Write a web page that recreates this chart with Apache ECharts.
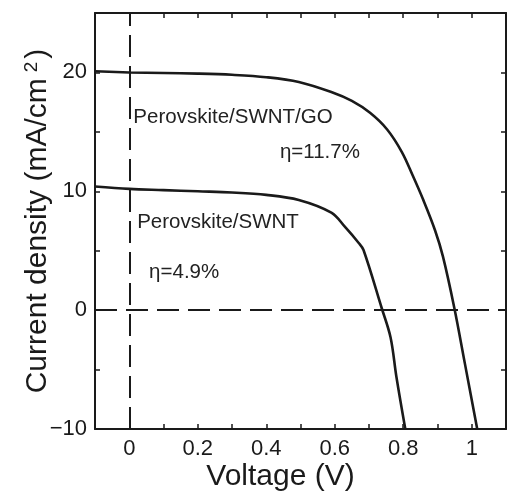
<!DOCTYPE html>
<html>
<head>
<meta charset="utf-8">
<script src="https://cdn.jsdelivr.net/npm/echarts@6/dist/echarts.min.js"></script>
<style>
  html, body { margin: 0; padding: 0; background: #fff; }
  #chart { width: 508px; height: 498px; }
</style>
</head>
<body>
<div id="chart"></div>
<script>
// J-V curves, voltage (V) vs current density (mA/cm2)
const goCurve = [
  [-0.1, 20.1], [0, 20.0], [0.1, 19.95], [0.2, 19.9], [0.3, 19.8], [0.4, 19.6],
  [0.495, 19.2], [0.59, 18.35], [0.65, 17.6], [0.703, 16.6], [0.753, 15.2],
  [0.796, 13.3], [0.828, 11.3], [0.858, 9.3], [0.893, 6.7], [0.916, 4.5],
  [0.949, 0.2], [0.98, -4.5], [1.016, -10]
]
const swntCurve = [
  [-0.1, 10.4], [0, 10.2], [0.1, 10.1], [0.2, 10.0], [0.3, 9.9], [0.4, 9.7],
  [0.495, 9.27], [0.59, 8.2], [0.63, 7.0], [0.67, 5.65], [0.684, 5.06], [0.737, 0.18],
  [0.763, -2.3], [0.78, -5.6], [0.806, -10]
]
const annotations = [
  { coord: [0.012, 16.2], text: 'Perovskite/SWNT/GO' },
  { coord: [0.44, 13.3], text: 'η=11.7%' },
  { coord: [0.023, 7.4], text: 'Perovskite/SWNT' },
  { coord: [0.058, 3.2], text: 'η=4.9%' }
]
const xLabels = [0, 0.2, 0.4, 0.6, 0.8, 1]
const yLabels = [-10, 0, 10, 20]

const FONT = 'Liberation Sans, Arial, sans-serif'
const INK = '#1a1a1a'

const chart = echarts.init(document.getElementById('chart'))

const baseX = {
  type: 'value',
  min: -0.1,
  max: 1.1,
  interval: 0.1,
  axisLine: { show: true, onZero: false, lineStyle: { color: INK, width: 2 } },
  axisTick: { show: true, inside: true, length: 5, lineStyle: { color: INK, width: 1.5 } },
  splitLine: { show: false },
}
const baseY = {
  type: 'value',
  min: -10,
  max: 25,
  interval: 5,
  axisLine: { show: true, onZero: false, lineStyle: { color: INK, width: 2 } },
  axisTick: { show: true, inside: true, length: 5, lineStyle: { color: INK, width: 1.5 } },
  splitLine: { show: false },
}

chart.setOption({
  animation: false,
  backgroundColor: '#fff',
  textStyle: { fontFamily: FONT },
  grid: { left: 95, right: 2, top: 13, bottom: 69, containLabel: false },
  xAxis: [
    {
      ...baseX,
      position: 'bottom',
      name: 'Voltage (V)',
      nameLocation: 'middle',
      nameGap: 33,
      nameMoveOverlap: false,
      nameTextStyle: { fontSize: 30, color: INK, fontFamily: FONT, padding: [0, 40, 0, 0] },
      axisLabel: {
        customValues: xLabels,
        fontSize: 22,
        color: INK,
        margin: 9,
        fontFamily: FONT,
      },
    },
    { ...baseX, position: 'top', axisLabel: { show: false } },
  ],
  yAxis: [
    {
      ...baseY,
      position: 'left',
      name: 'Current density (mA/cm{sup|2})',
      nameLocation: 'middle',
      nameGap: 42,
      nameMoveOverlap: false,
      nameTextStyle: {
        fontSize: 30,
        color: INK,
        fontFamily: FONT,
        rich: {
          sup: { fontSize: 19, color: INK, fontFamily: FONT, verticalAlign: 'top', padding: [0, 3, 12, 6] },
        },
      },
      axisLabel: {
        customValues: yLabels,
        fontSize: 22,
        color: INK,
        margin: 8,
        fontFamily: FONT,
        formatter: v => String(v).replace('-', '\u2212'),
      },
    },
    { ...baseY, position: 'right', axisLabel: { show: false } },
  ],
  series: [
    {
      name: 'Perovskite/SWNT/GO',
      type: 'line',
      data: goCurve,
      smooth: 0.35,
      showSymbol: false,
      lineStyle: { color: INK, width: 2.6 },
      markLine: {
        silent: true,
        symbol: 'none',
        label: { show: false },
        lineStyle: { color: INK, width: 2, type: [22, 9] },
        data: [{ xAxis: 0 }, { yAxis: 0 }],
      },
      markPoint: {
        silent: true,
        symbol: 'circle',
        symbolSize: 0,
        label: {
          show: true,
          position: 'right',
          distance: 0,
          fontSize: 20.5,
          color: '#222',
          fontFamily: FONT,
          formatter: p => p.data.text,
        },
        data: annotations.map(a => ({ coord: a.coord, text: a.text })),
      },
    },
    {
      name: 'Perovskite/SWNT',
      type: 'line',
      data: swntCurve,
      smooth: 0.35,
      showSymbol: false,
      lineStyle: { color: INK, width: 2.6 },
    },
  ],
})
</script>
</body>
</html>
